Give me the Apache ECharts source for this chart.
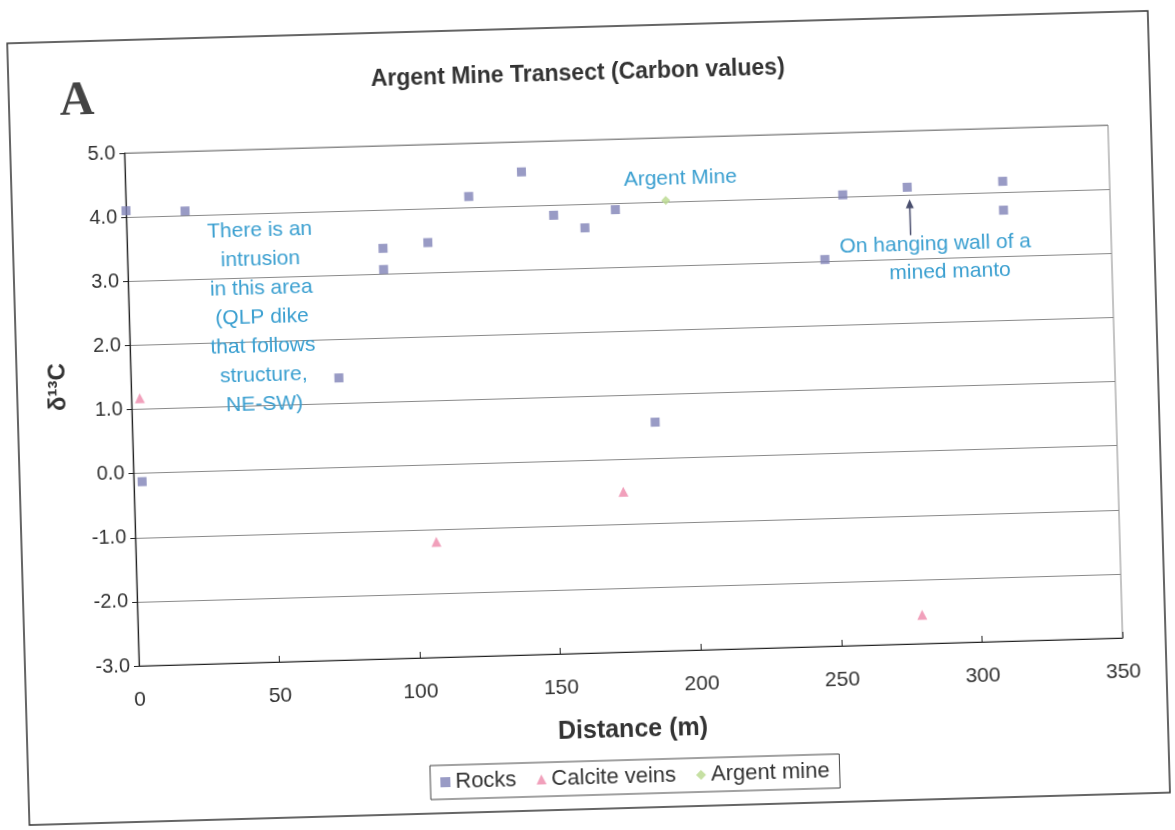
<!DOCTYPE html>
<html>
<head>
<meta charset="utf-8">
<script src="https://cdn.jsdelivr.net/npm/echarts@6/dist/echarts.min.js"></script>
<style>
  html, body { margin: 0; padding: 0; background: #fff; overflow: hidden; }
  /* the printed sheet sits slightly askew */
  #chart { width: 1175px; height: 830px; transform: rotate(-1.63deg); transform-origin: 587.5px 415px; }
</style>
</head>
<body>
<div id="chart"></div>
<script>
// Distance along the transect (m) and carbon isotope values (δ13C)
const rocksX = [0, 21, 3, 74, 91, 91, 107, 122, 141, 152, 163, 174, 186, 248, 255, 278, 312, 312];
const rocksY = [4.10, 4.07, -0.13, 1.40, 3.40, 3.07, 3.47, 4.17, 4.53, 3.84, 3.63, 3.90, 0.57, 3.03, 4.03, 4.12, 4.17, 3.72];

const calciteX = [3, 107, 174, 279];
const calciteY = [1.17, -1.20, -0.50, -2.55];

const mineX = [192];
const mineY = [4.02];

const seriesNames = ['Rocks', 'Calcite veins', 'Argent mine'];

const xMin = 0, xMax = 350, xStep = 50;
const yMin = -3, yMax = 5, yStep = 1;

const FONT = '"Liberation Sans", Arial, sans-serif';
const NOTE = '#3a9fd0';
const INK = '#333';

const pairs = (xs, ys) => xs.map((x, i) => [x, ys[i]]);

const chart = echarts.init(document.getElementById('chart'));

chart.setOption({
  backgroundColor: '#fff',
  animation: false,
  title: {
    text: 'Argent Mine Transect (Carbon values)',
    left: 'center',
    top: 57,
    textStyle: { fontFamily: FONT, fontSize: 23, fontWeight: 'bold', color: INK }
  },
  legend: {
    data: seriesNames,
    left: 420,
    top: 761,
    itemWidth: 10,
    itemHeight: 10,
    itemGap: 20,
    padding: [6, 10],
    borderColor: '#444',
    borderWidth: 1,
    textStyle: { fontFamily: FONT, fontSize: 22, color: INK }
  },
  grid: {
    left: 132, top: 140, width: 984, height: 513,
    show: true, borderColor: '#8a8a8a', borderWidth: 1
  },
  xAxis: {
    type: 'value', min: xMin, max: xMax, interval: xStep,
    name: 'Distance (m)', nameLocation: 'middle', nameGap: 66,
    nameTextStyle: { fontFamily: FONT, fontSize: 25, fontWeight: 'bold', color: INK },
    axisLine: { show: true, onZero: false, lineStyle: { color: '#222', width: 1.2 } },
    axisTick: { show: true, inside: true, length: 6, lineStyle: { color: '#222' } },
    axisLabel: { fontFamily: FONT, fontSize: 21, color: INK, margin: 24 },
    splitLine: { show: false }
  },
  yAxis: {
    type: 'value', min: yMin, max: yMax, interval: yStep,
    axisLine: { show: true, onZero: false, lineStyle: { color: '#222', width: 1.2 } },
    axisTick: { show: true, inside: false, length: 5, lineStyle: { color: '#222' } },
    axisLabel: { fontFamily: FONT, fontSize: 20, color: INK, margin: 9,
                 formatter: v => v.toFixed(1) },
    splitLine: { show: true, lineStyle: { color: '#8a8a8a', width: 1 } }
  },
  series: [
    { name: seriesNames[0], type: 'scatter', symbol: 'rect', symbolSize: 9,
      itemStyle: { color: '#7f82b6' }, data: pairs(rocksX, rocksY), z: 3 },
    { name: seriesNames[1], type: 'scatter', symbol: 'triangle', symbolSize: 10,
      itemStyle: { color: '#ee88aa' }, data: pairs(calciteX, calciteY), z: 3 },
    { name: seriesNames[2], type: 'scatter', symbol: 'diamond', symbolSize: 9,
      itemStyle: { color: '#b8d88c' }, data: pairs(mineX, mineY), z: 3 }
  ]
});

// arrow pointing at the hanging-wall sample
const hw = chart.convertToPixel({ seriesIndex: 0 }, [rocksX[15], rocksY[15]]);
const ax = hw[0] + 2, ayTip = hw[1] + 12, ayTail = hw[1] + 48;

chart.setOption({
  graphic: [
    { type: 'rect', silent: true, z: 0,
      shape: { x: 18, y: 27, width: 1141, height: 782 },
      style: { fill: 'none', stroke: '#333', lineWidth: 1.5 } },
    { type: 'text', silent: true, x: 86, y: 88,
      style: { text: 'A', font: 'bold 48px "Liberation Serif", "Times New Roman", serif',
               fill: '#444', textAlign: 'center', textVerticalAlign: 'middle' } },
    { type: 'text', silent: true, x: 59, y: 372, rotation: Math.PI / 2,
      style: { text: 'δ¹³C', font: 'bold 24px ' + FONT, fill: INK,
               textAlign: 'center', textVerticalAlign: 'middle' } },
    { type: 'text', silent: true, x: 265, y: 207, z: 10,
      style: { text: 'There is an\nintrusion\nin this area\n(QLP dike\nthat follows\nstructure,\nNE-SW)',
               font: '21px ' + FONT, lineHeight: 29, fill: NOTE,
               textAlign: 'center', textVerticalAlign: 'top' } },
    { type: 'text', silent: true, x: 687, y: 181, z: 10,
      style: { text: 'Argent Mine', font: '21px ' + FONT, fill: NOTE,
               textAlign: 'center', textVerticalAlign: 'middle' } },
    { type: 'text', silent: true, x: 940, y: 254, z: 10,
      style: { text: 'On hanging wall of a', font: '21px ' + FONT, fill: NOTE,
               textAlign: 'center', textVerticalAlign: 'middle' } },
    { type: 'text', silent: true, x: 954, y: 282, z: 10,
      style: { text: 'mined manto', font: '21px ' + FONT, fill: NOTE,
               textAlign: 'center', textVerticalAlign: 'middle' } },
    { type: 'line', silent: true, z: 10,
      shape: { x1: ax, y1: ayTail, x2: ax, y2: ayTip + 6 },
      style: { stroke: '#4a4f6e', lineWidth: 1.5 } },
    { type: 'polygon', silent: true, z: 10,
      shape: { points: [[ax, ayTip], [ax - 4, ayTip + 9], [ax + 4, ayTip + 9]] },
      style: { fill: '#4a4f6e' } }
  ]
});
</script>
</body>
</html>
